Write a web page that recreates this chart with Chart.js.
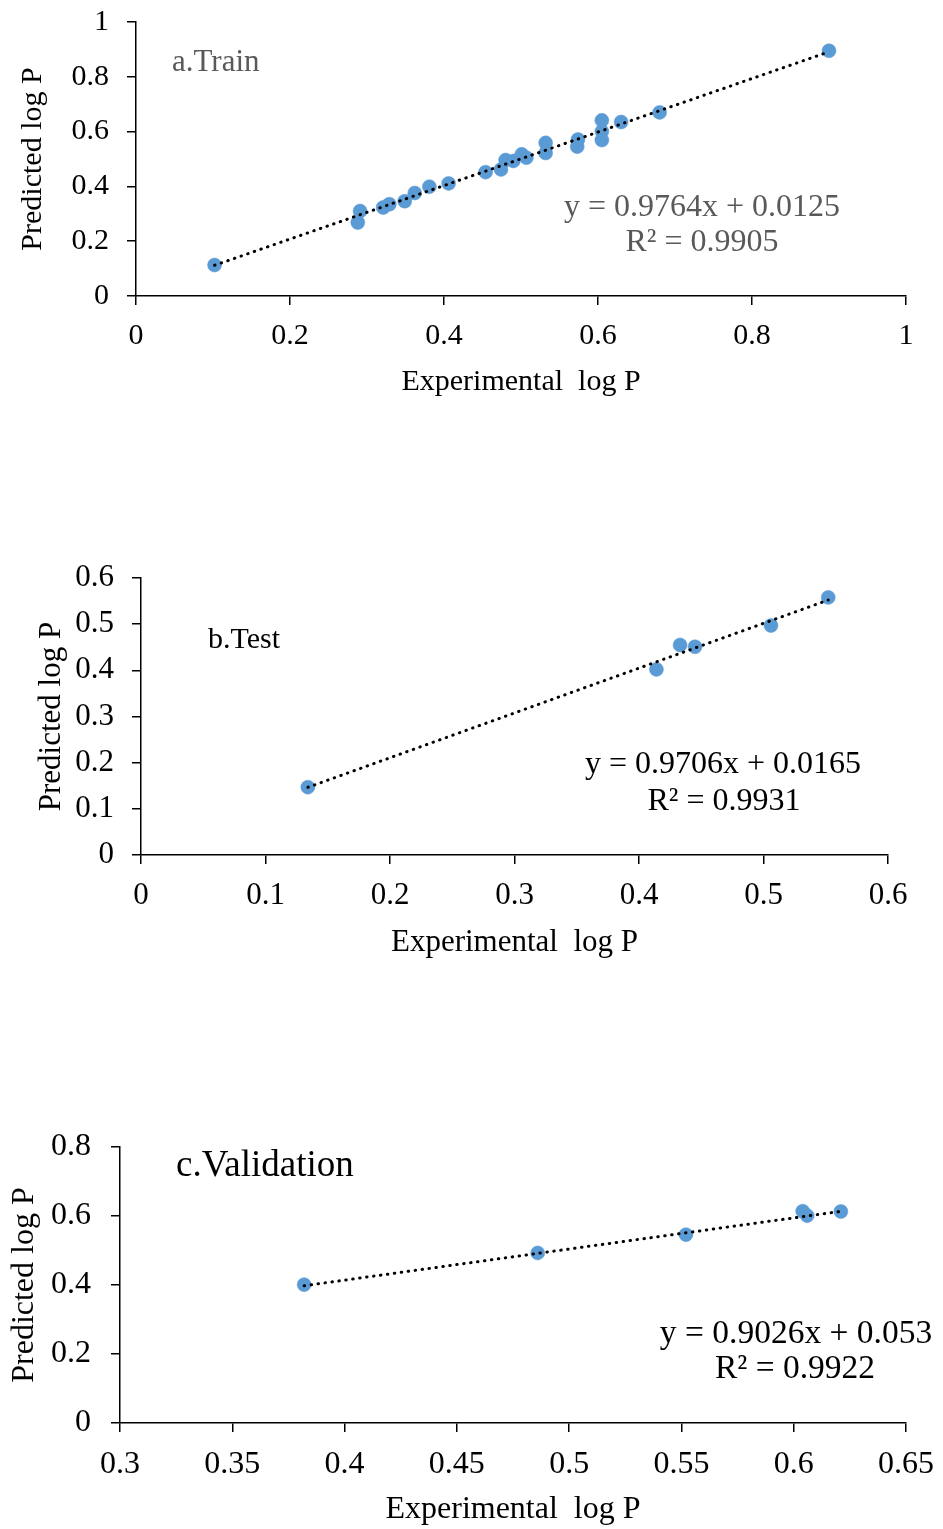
<!DOCTYPE html>
<html>
<head>
<meta charset="utf-8">
<script src="https://cdn.jsdelivr.net/npm/chart.js@4.4.1/dist/chart.umd.min.js"></script>
<style>
  body { margin: 0; background: #fff; width: 943px; height: 1529px; position: relative; overflow: hidden; }
  canvas { position: absolute; left: 0; }
</style>
</head>
<body>
<canvas id="trainChart" width="943" height="420" style="top:0px"></canvas>
<canvas id="testChart" width="943" height="480" style="top:500px"></canvas>
<canvas id="validChart" width="943" height="449" style="top:1080px"></canvas>
<script>
// values

// a. Train
const trainX = [0.102, 0.288, 0.291, 0.321, 0.329, 0.349, 0.362, 0.381, 0.406, 0.454, 0.474, 0.480, 0.490,
                0.501, 0.507, 0.532, 0.532, 0.574, 0.573, 0.605, 0.605, 0.605, 0.630, 0.680, 0.900]
const trainY = [0.113, 0.268, 0.310, 0.323, 0.335, 0.346, 0.376, 0.399, 0.411, 0.452, 0.462, 0.496, 0.493,
                0.517, 0.505, 0.559, 0.522, 0.571, 0.545, 0.641, 0.601, 0.569, 0.635, 0.670, 0.895]
const trainFit = { slope: 0.9764, intercept: 0.0125, eq: 'y = 0.9764x + 0.0125', r2: 'R² = 0.9905' }
const trainXTicks = [0, 0.2, 0.4, 0.6, 0.8, 1]
const trainYTicks = [0, 0.2, 0.4, 0.6, 0.8, 1]

// b. Test
const testX = [0.134, 0.414, 0.433, 0.445, 0.506, 0.552]
const testY = [0.147, 0.402, 0.455, 0.451, 0.497, 0.558]
const testFit = { slope: 0.9706, intercept: 0.0165, eq: 'y = 0.9706x + 0.0165', r2: 'R² = 0.9931' }
const testXTicks = [0, 0.1, 0.2, 0.3, 0.4, 0.5, 0.6]
const testYTicks = [0, 0.1, 0.2, 0.3, 0.4, 0.5, 0.6]

// c. Validation
const validX = [0.382, 0.486, 0.552, 0.604, 0.606, 0.621]
const validY = [0.401, 0.493, 0.546, 0.614, 0.601, 0.613]
const validFit = { slope: 0.9026, intercept: 0.053, eq: 'y = 0.9026x + 0.053', r2: 'R² = 0.9922' }
const validXTicks = [0.3, 0.35, 0.4, 0.45, 0.5, 0.55, 0.6, 0.65]
const validYTicks = [0, 0.2, 0.4, 0.6, 0.8]

const X_TITLE = 'Experimental  log P'
const Y_TITLE = 'Predicted log P'
const BLUE = '#5B9BD5'
const SERIF = '"Liberation Serif", "Times New Roman", serif'

// excel-style trendline, spanning the data range only
function trendLine(xs, fit) {
  const lo = Math.min(...xs)
  const hi = Math.max(...xs)
  return [lo, hi].map(x => ({ x: x, y: fit.slope * x + fit.intercept }))
}

function notesPlugin(notes) {
  return {
    id: 'notes',
    afterDraw(chart) {
      const ctx = chart.ctx
      ctx.save()
      ctx.textBaseline = 'middle'
      notes.forEach(n => {
        ctx.font = n.size + 'px ' + SERIF
        ctx.fillStyle = n.color
        ctx.textAlign = n.align
        ctx.fillText(n.text, n.x, n.y)
      })
      ctx.restore()
    }
  }
}

function axis(ticks, o) {
  return {
    type: 'linear',
    min: ticks[0],
    max: ticks[ticks.length - 1],
    afterBuildTicks: s => { s.ticks = ticks.map(v => ({ value: v })) },
    afterFit: s => {
      if (o.width) s.width = o.width
      if (o.height) s.height = o.height
      // plot area is fixed by layout padding, so no extra room for label overhang
      s.paddingTop = s.paddingBottom = s.paddingLeft = s.paddingRight = 0
    },
    ticks: {
      color: '#000',
      padding: o.tickPad,
      font: { family: SERIF, size: o.font },
      callback: v => String(v),
    },
    grid: { drawOnChartArea: false, drawTicks: true, tickLength: 9, color: '#000', lineWidth: 1.5 },
    border: { display: true, color: '#000', width: 1.5 },
    title: {
      display: true,
      text: o.title,
      color: '#000',
      font: { family: SERIF, size: o.font, lineHeight: 1.2 },
      padding: o.titlePad,
    },
  }
}

function makeChart(id, c) {
  const points = c.xs.map((x, i) => ({ x: x, y: c.ys[i] }))
  return new Chart(document.getElementById(id), {
    type: 'scatter',
    data: {
      datasets: [
        {
          data: trendLine(c.xs, c.fit),
          showLine: true,
          borderColor: '#000',
          borderWidth: 3,
          borderDash: [0.5, 6.5],
          borderCapStyle: 'round',
          pointRadius: 0,
          fill: false,
        },
        {
          data: points,
          backgroundColor: BLUE,
          borderColor: BLUE,
          borderWidth: 0.5,
          pointRadius: 7,
        },
      ]
    },
    options: {
      responsive: false,
      animation: false,
      events: [],
      layout: { padding: { left: 0, top: c.area.top, right: 943 - c.area.right, bottom: 0 } },
      plugins: { legend: { display: false }, tooltip: { enabled: false } },
      scales: {
        x: axis(c.xTicks, { height: c.xAxisH, font: c.font, tickPad: c.xTickPad, title: X_TITLE,
                            titlePad: { top: 0, bottom: c.xTitlePad } }),
        y: axis(c.yTicks, { width: c.area.left, font: c.font, tickPad: c.yTickPad, title: Y_TITLE,
                            titlePad: { top: c.yTitlePad, bottom: 0 } }),
      }
    },
    plugins: [notesPlugin(c.notes)]
  })
}

makeChart('trainChart', {
  xs: trainX, ys: trainY, fit: trainFit, xTicks: trainXTicks, yTicks: trainYTicks,
  area: { left: 136, right: 906, top: 22 }, xAxisH: 124,
  font: 30, xTickPad: 13, yTickPad: 18, xTitlePad: 20, yTitlePad: 15,
  notes: [
    { text: 'a.Train', x: 172, y: 63, size: 31, color: '#595959', align: 'left' },
    { text: trainFit.eq, x: 702, y: 208, size: 32, color: '#595959', align: 'center' },
    { text: trainFit.r2, x: 702, y: 243, size: 32, color: '#595959', align: 'center' },
  ]
})

makeChart('testChart', {
  xs: testX, ys: testY, fit: testFit, xTicks: testXTicks, yTicks: testYTicks,
  area: { left: 141, right: 888, top: 78 }, xAxisH: 125,
  font: 31, xTickPad: 13, yTickPad: 18, xTitlePad: 19, yTitlePad: 33,
  notes: [
    { text: 'b.Test', x: 208, y: 140, size: 30, color: '#000', align: 'left' },
    { text: testFit.eq, x: 723, y: 265, size: 32, color: '#000', align: 'center' },
    { text: testFit.r2, x: 724, y: 302, size: 32, color: '#000', align: 'center' },
  ]
})

makeChart('validChart', {
  xs: validX, ys: validY, fit: validFit, xTicks: validXTicks, yTicks: validYTicks,
  area: { left: 120, right: 906, top: 67 }, xAxisH: 106,
  font: 32, xTickPad: 13, yTickPad: 20, xTitlePad: 0, yTitlePad: 5,
  notes: [
    { text: 'c.Validation', x: 176, y: 86, size: 37, color: '#000', align: 'left' },
    { text: validFit.eq, x: 796, y: 254, size: 33.5, color: '#000', align: 'center' },
    { text: validFit.r2, x: 795, y: 289, size: 33.5, color: '#000', align: 'center' },
  ]
})
</script>
</body>
</html>
